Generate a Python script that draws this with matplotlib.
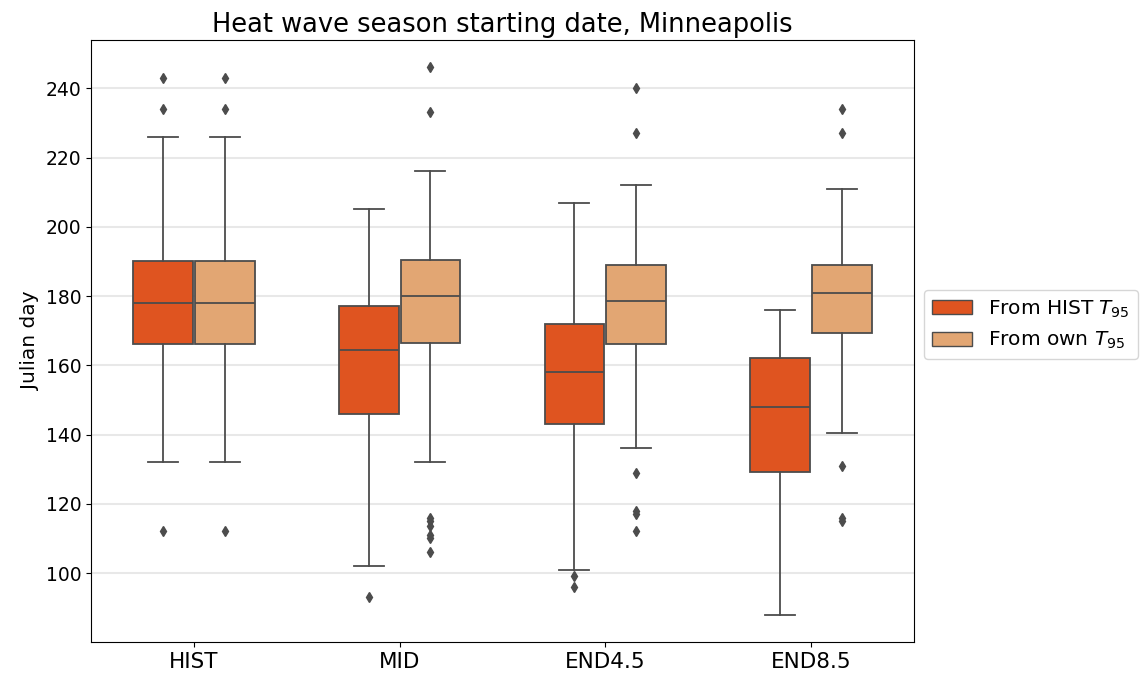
import numpy as np
import matplotlib
matplotlib.use("Agg")
import matplotlib.pyplot as plt
from matplotlib.patches import Patch

# periods on the x axis
periods = ["HIST", "MID", "END4.5", "END8.5"]
series_names = [r"From HIST $T_{95}$", r"From own $T_{95}$"]

# box statistics (Julian day)
# from HIST T95
hist_whislo = [132, 102, 101, 88]
hist_q1 = [166, 146, 143, 129.3]
hist_med = [178, 164.5, 158, 148]
hist_q3 = [190, 177, 172, 162]
hist_whishi = [226, 205, 207, 176]
hist_fliers = [[243, 234, 112], [93], [99, 96], []]

# from own T95
own_whislo = [132, 132, 136, 140.5]
own_q1 = [166, 166.5, 166, 169.4]
own_med = [178, 180, 178.5, 181]
own_q3 = [190, 190.3, 189, 189]
own_whishi = [226, 216, 212, 211]
own_fliers = [[243, 234, 112], [246, 233, 116, 115, 113.5, 111, 110, 106],
              [240, 227, 129, 118, 117, 112], [234, 227, 131, 116, 115]]

colors = ["#df5420", "#e2a673"]
gray = "#4c4c4c"


def make_stats(lo, q1, med, q3, hi, fl):
    return [dict(whislo=lo[i], q1=q1[i], med=med[i], q3=q3[i], whishi=hi[i],
                 fliers=fl[i]) for i in range(len(lo))]


stats = [make_stats(hist_whislo, hist_q1, hist_med, hist_q3, hist_whishi, hist_fliers),
         make_stats(own_whislo, own_q1, own_med, own_q3, own_whishi, own_fliers)]

fig = plt.figure(figsize=(11.45, 6.8), dpi=100)
ax = fig.add_axes([0.0795, 0.056, 0.7185, 0.885])

x = np.arange(len(periods))
offsets = [-0.15, 0.15]
lw = 1.3
for k in range(2):
    ax.bxp(stats[k], positions=x + offsets[k], widths=0.29, patch_artist=True,
           manage_ticks=False,
           boxprops=dict(facecolor=colors[k], edgecolor=gray, linewidth=lw),
           medianprops=dict(color=gray, linewidth=lw),
           whiskerprops=dict(color=gray, linewidth=lw),
           capprops=dict(color=gray, linewidth=lw),
           flierprops=dict(marker="d", markersize=5, markerfacecolor=gray,
                           markeredgecolor=gray, linestyle="none"))

ax.set_xlim(-0.5, 3.5)
ax.set_xticks(x)
ax.set_xticklabels(periods, fontsize=15.5)
ax.set_yticks(np.arange(100, 241, 20))
ax.tick_params(axis="y", labelsize=13.5)
ax.yaxis.grid(True, color="#e8e8e8", linewidth=1.5)
ax.set_axisbelow(True)
ax.set_ylabel("Julian day", fontsize=14.5)
ax.set_title("Heat wave season starting date, Minneapolis", fontsize=18.5)

handles = [Patch(facecolor=colors[k], edgecolor=gray, label=series_names[k]) for k in range(2)]
ax.legend(handles=handles, loc="center left", bbox_to_anchor=(1.0, 0.527), fontsize=14.5)

fig.savefig("out.png")
